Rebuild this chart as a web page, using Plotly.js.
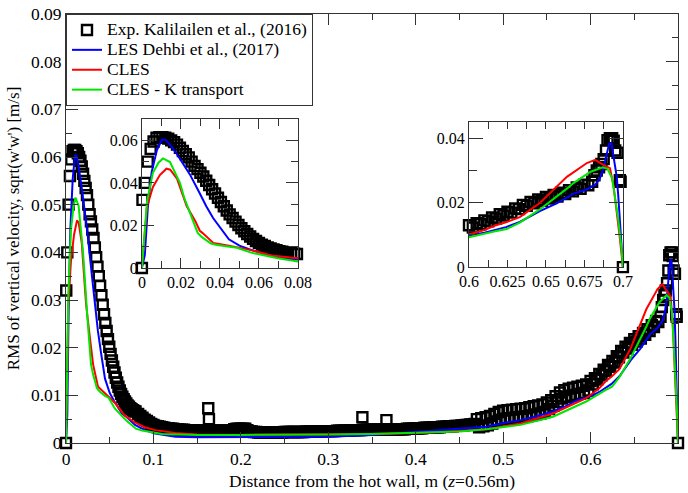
<!DOCTYPE html>
<html>
<head>
<meta charset="utf-8">
<script src="https://cdn.plot.ly/plotly-3.0.1.min.js"></script>
<style>html,body{margin:0;padding:0;background:#fff;}#chart{width:688px;height:493px;}</style>
</head>
<body>
<div id="chart"></div>
<script>
// Experimental data (Kalilailen et al., 2016)
const expX = [0,0.0003,0.0015,0.003,0.0045,0.006,0.0075,0.009,0.0105,0.012,0.0135,0.015,0.0165,0.018,0.0195,0.021,0.0225,0.024,0.0255,0.027,0.0285,0.030,0.0315,0.033,0.0345,0.036,0.0375,0.039,0.0405,0.042,0.0435,0.045,0.0465,0.048,0.0495,0.051,0.0525,0.054,0.0555,0.057,0.0585,0.060,0.0615,0.063,0.0645,0.066,0.0675,0.069,0.0705,0.072,0.0735,0.075,0.0765,0.078,0.0795,
0.0825,0.085,0.0875,0.09,0.0925,0.095,0.0975,0.1,
0.1025,0.105,0.1075,0.11,0.1125,0.115,0.1175,0.12,0.1225,0.125,0.1275,0.13,0.1325,0.135,0.1375,0.14,0.1425,0.145,0.1475,0.15,
0.1525,0.155,0.1575,0.16,0.1625,0.165,0.1675,0.17,0.1725,0.175,0.1775,0.18,0.1825,0.185,0.1875,0.19,0.1925,0.195,0.1975,0.2,
0.2025,0.205,0.2075,0.21,0.2125,0.215,0.2175,0.22,0.2225,0.225,0.2275,0.23,0.2325,0.235,0.2375,0.24,0.2425,0.245,0.2475,0.25,
0.2525,0.255,0.2575,0.26,0.2625,0.265,0.2675,0.27,0.2725,0.275,0.2775,0.28,0.2825,0.285,0.2875,0.29,0.2925,0.295,0.2975,0.3,
0.3025,0.305,0.3075,0.31,0.3125,0.315,0.3175,0.32,0.3225,0.325,0.3275,0.33,0.3325,0.335,0.3375,0.34,0.3425,0.345,0.3475,0.35,
0.3525,0.355,0.3575,0.36,0.3625,0.365,0.3675,0.37,0.3725,0.375,0.3775,0.38,0.3825,0.385,0.3875,0.39,0.3925,0.395,0.3975,0.4,
0.4025,0.405,0.4075,0.41,0.4125,0.415,0.4175,0.42,0.4225,0.425,0.4275,0.43,0.4325,0.435,0.4375,0.44,0.4425,0.445,0.4475,0.45,
0.4525,0.455,0.4575,0.46,0.4625,0.465,0.4675,0.47,0.4725,0.475,0.4775,0.48,0.4825,0.485,0.4875,0.49,0.4925,0.495,0.4975,0.5,
0.5025,0.505,0.5075,0.51,0.5125,0.515,0.5175,0.52,0.5225,0.525,0.5275,0.53,0.5325,0.535,0.5375,0.54,0.5425,0.545,0.5475,0.55,
0.5525,0.555,0.5575,0.56,0.5625,0.565,0.5675,0.57,0.5725,0.575,0.5775,0.58,0.5825,0.585,0.5875,0.59,0.5925,0.595,0.5975,0.6,
0.6025,0.605,0.6075,0.61,0.6125,0.615,0.6175,0.62,0.6225,0.625,0.6275,0.63,0.6325,0.635,0.6375,0.64,0.6425,0.645,0.6475,0.65,0.6525,0.655,0.6575,0.66,0.6625,0.665,0.6675,0.67,0.6725,0.675,0.6775,0.68,
0.6815,0.683,0.6845,0.686,0.6875,0.689,0.690,0.6915,0.693,0.694,0.695,0.6965,0.698,0.6985,0.700,
0.1627,0.1635,0.339,0.3665];
const expY = [0,0.032,0.040,0.050,0.056,0.0595,0.0612,0.0615,0.0615,0.0612,0.0608,0.060,0.0592,0.058,0.0565,0.055,0.0535,0.052,0.050,0.048,0.0465,0.0448,0.043,0.041,0.039,0.037,0.035,0.033,0.031,0.029,0.027,0.0252,0.0235,0.0218,0.0202,0.0187,0.0173,0.016,0.0148,0.0137,0.0127,0.0118,0.011,0.0103,0.0097,0.0092,0.0087,0.0083,0.0079,0.0076,0.0073,0.0071,0.0069,0.0067,0.0066,
0.0061,0.0057,0.0053,0.0049,0.0046,0.0043,0.0040,0.0038,
0.0036,0.0035,0.0034,0.0033,0.0032,0.0031,0.0031,0.0030,0.0030,0.0029,0.0029,0.0028,0.0028,0.0028,0.0027,0.0027,0.0027,0.0027,0.0026,0.0026,
0.0026,0.0026,0.0026,0.0026,0.0026,0.0026,0.0026,0.0026,0.0026,0.0026,0.0026,0.0026,0.0026,0.0026,0.0026,0.0026,0.0029,0.0030,0.0030,0.0030,
0.0030,0.0030,0.0027,0.0025,0.0024,0.0023,0.0023,0.0022,0.0022,0.0022,0.0022,0.0022,0.0022,0.0022,0.0022,0.0022,0.0022,0.0022,0.0022,0.0023,
0.0023,0.0023,0.0023,0.0023,0.0023,0.0023,0.0023,0.0023,0.0023,0.0024,0.0024,0.0024,0.0024,0.0024,0.0024,0.0024,0.0025,0.0025,0.0025,0.0025,
0.0025,0.0025,0.0025,0.0026,0.0026,0.0026,0.0026,0.0026,0.0026,0.0027,0.0027,0.0027,0.0027,0.0027,0.0027,0.0028,0.0028,0.0028,0.0028,0.0028,
0.0028,0.0028,0.0028,0.0028,0.0028,0.0028,0.0029,0.0029,0.0029,0.0029,0.0029,0.0029,0.0029,0.0029,0.0029,0.0030,0.0030,0.0030,0.0030,0.0030,
0.0031,0.0031,0.0031,0.0032,0.0032,0.0032,0.0032,0.0033,0.0033,0.0033,0.0033,0.0034,0.0034,0.0034,0.0035,0.0035,0.0035,0.0036,0.0036,0.0036,
0.0037,0.0037,0.0038,0.0038,0.0039,0.0039,0.0040,0.0050,0.0033,0.0052,0.0035,0.0054,0.0037,0.0057,0.0041,0.0061,0.0045,0.0065,0.0049,0.0068,
0.0051,0.0069,0.0052,0.0070,0.0053,0.0071,0.0054,0.0072,0.0055,0.0073,0.0056,0.0075,0.0058,0.0077,0.0060,0.0079,0.0062,0.0081,0.0065,0.0085,
0.0071,0.0090,0.0078,0.0098,0.0086,0.0106,0.0093,0.0111,0.0097,0.0114,0.0099,0.0116,0.0101,0.0118,0.0103,0.0120,0.0105,0.0123,0.0110,0.0130,
0.0123,0.0136,0.0133,0.0145,0.0142,0.0154,0.0151,0.0164,0.0160,0.0172,0.0169,0.0182,0.0180,0.0193,0.0190,0.0202,0.0198,0.0210,0.0206,0.0218,0.0213,0.0224,0.0219,0.0231,0.0227,0.0239,0.0235,0.0247,0.0243,0.0256,0.0254,0.0265,
0.0285,0.0300,0.0310,0.0320,0.0335,0.0362,0.0394,0.0400,0.0400,0.0392,0.0362,0.0355,0.0270,0.0265,0.0000,
0.0073,0.0050,0.0054,0.0048];

// LES Dehbi et al., (2017)
const lesX = [0,0.0015,0.003,0.005,0.0077,0.0103,0.012,0.014,0.018,0.0246,0.0297,0.033,0.0365,0.040,0.0446,0.050,0.055,0.064,0.069,0.079,0.090,0.102,0.125,0.150,0.200,0.250,0.300,0.350,0.400,0.450,0.481,0.500,0.520,0.540,0.557,0.570,0.585,0.600,0.610,0.624,0.633,0.646,0.657,0.668,0.676,0.682,0.685,0.687,0.689,0.691,0.6925,0.694,0.696,0.697,0.699,0.700];
const lesY = [0,0.006,0.028,0.045,0.0555,0.0603,0.0603,0.0585,0.0535,0.044,0.035,0.029,0.0235,0.019,0.0135,0.0105,0.0088,0.0062,0.0055,0.0038,0.0027,0.0020,0.0013,0.0012,0.0012,0.0012,0.0013,0.0017,0.0024,0.0030,0.0034,0.0042,0.0048,0.0057,0.0066,0.0076,0.0090,0.0098,0.0107,0.0124,0.0140,0.0174,0.0198,0.0228,0.0240,0.0255,0.0275,0.0300,0.0340,0.0382,0.0385,0.0340,0.0280,0.0220,0.0093,0];

// CLES
const clesX = [0,0.0005,0.0026,0.0056,0.0092,0.0126,0.0145,0.018,0.0206,0.023,0.0274,0.0297,0.031,0.0366,0.0446,0.050,0.056,0.0674,0.080,0.090,0.102,0.125,0.150,0.200,0.300,0.350,0.405,0.450,0.481,0.520,0.557,0.595,0.610,0.617,0.6245,0.633,0.646,0.6636,0.6766,0.682,0.687,0.6916,0.694,0.696,0.698,0.700];
const clesY = [0,0.006,0.0287,0.038,0.0437,0.0467,0.0462,0.042,0.035,0.029,0.022,0.0175,0.0165,0.0118,0.0105,0.0095,0.0084,0.0057,0.0042,0.0033,0.0027,0.0021,0.0018,0.0017,0.0018,0.0019,0.0021,0.0025,0.0029,0.0041,0.0062,0.0094,0.0115,0.0129,0.0140,0.0155,0.0199,0.0280,0.0323,0.0333,0.0318,0.0307,0.0250,0.0177,0.0090,0];

// CLES - K transport
const clesKX = [0,0.0005,0.0026,0.0056,0.0085,0.0108,0.0144,0.0195,0.0217,0.0246,0.0286,0.0308,0.0354,0.0385,0.0446,0.0487,0.056,0.069,0.080,0.087,0.110,0.150,0.200,0.250,0.300,0.350,0.405,0.450,0.481,0.520,0.557,0.595,0.617,0.6245,0.633,0.646,0.664,0.6676,0.679,0.683,0.687,0.690,0.693,0.695,0.697,0.699,0.700];
const clesKY = [0,0.006,0.031,0.0446,0.0495,0.0515,0.0498,0.040,0.033,0.026,0.0165,0.0145,0.0115,0.0108,0.0099,0.0095,0.0072,0.0047,0.0030,0.0026,0.0019,0.0017,0.0017,0.0017,0.0018,0.0019,0.0021,0.0024,0.0029,0.0038,0.0055,0.0087,0.0111,0.0118,0.0138,0.0179,0.0245,0.0260,0.0296,0.0302,0.0310,0.0305,0.0275,0.0210,0.0147,0.0060,0];

const names = ['Exp. Kalilailen et al., (2016)','LES Dehbi et al., (2017)','CLES','CLES - K transport'];

const FONT = '"Liberation Serif", "Times New Roman", Times, serif';
const BLUE = '#0000ff', RED = '#ff0000', GREEN = '#00e600';

function within(xs, ys, lo, hi) {
  const x = [], y = [];
  xs.forEach((v, i) => { if (v >= lo - 1e-9 && v <= hi + 1e-9) { x.push(v); y.push(ys[i]); } });
  return {x, y};
}

function traces(xa, ya, lo, hi, legend) {
  const e = within(expX, expY, lo, hi);
  const nm = n => '<span style="font-size:17.5px">' + n + '</span>';
  return [
    {x: e.x, y: e.y, xaxis: xa, yaxis: ya, mode: 'markers', type: 'scatter', name: nm(names[0]), showlegend: legend,
     cliponaxis: false,
     marker: {symbol: 'square-open', size: 10, color: '#000', line: {width: 2.4, color: '#000'}}},
    {x: lesX, y: lesY, xaxis: xa, yaxis: ya, mode: 'lines', type: 'scatter', name: nm(names[1]), showlegend: legend,
     line: {color: BLUE, width: 2}},
    {x: clesX, y: clesY, xaxis: xa, yaxis: ya, mode: 'lines', type: 'scatter', name: nm(names[2]), showlegend: legend,
     line: {color: RED, width: 2}},
    {x: clesKX, y: clesKY, xaxis: xa, yaxis: ya, mode: 'lines', type: 'scatter', name: nm(names[3]), showlegend: legend,
     line: {color: GREEN, width: 2}}
  ];
}

const data = [].concat(
  traces('x', 'y', 0, 0.7, true),
  traces('x2', 'y2', 0, 0.08, false),
  traces('x3', 'y3', 0.6, 0.7, false)
);

const axCommon = {
  showline: true, linecolor: '#333', linewidth: 1, mirror: 'allticks',
  ticks: 'inside', tickcolor: '#333', tickwidth: 1,
  showgrid: false, zeroline: false,
  tickfont: {family: FONT, size: 17.5, color: '#000'}
};
const insetFont = {family: FONT, size: 16, color: '#000'};

const layout = {
  width: 688, height: 493,
  margin: {l: 66, r: 10, t: 14, b: 50},
  paper_bgcolor: '#fff', plot_bgcolor: '#fff',
  font: {family: FONT, color: '#000'},
  showlegend: true,
  legend: {
    x: 0, y: 1, xanchor: 'left', yanchor: 'top',
    bgcolor: '#fff', bordercolor: '#333', borderwidth: 1,
    font: {family: FONT, size: 13, color: '#000'},
    tracegroupgap: 0
  },
  xaxis: Object.assign({}, axCommon, {
    domain: [0, 1], range: [0, 0.7], dtick: 0.1, tick0: 0, ticklen: 11,
    minor: {dtick: 0.05, ticklen: 6, ticks: 'inside', tickcolor: '#333'},
    title: {text: 'Distance from the hot wall, m (<i>z</i>=0.56m)', font: {family: FONT, size: 17.5, color: '#000'}, standoff: 6},
    anchor: 'y'
  }),
  yaxis: Object.assign({}, axCommon, {
    domain: [0, 1], range: [0, 0.09], dtick: 0.01, tick0: 0, ticklen: 12,
    minor: {dtick: 0.005, ticklen: 6, ticks: 'inside', tickcolor: '#333'},
    title: {text: "RMS of vertical velocity, sqrt(w'w') [m/s]", font: {family: FONT, size: 17, color: '#000'}, standoff: 6},
    anchor: 'x'
  }),
  xaxis2: Object.assign({}, axCommon, {
    domain: [0.124, 0.379], range: [0, 0.08], dtick: 0.02, tick0: 0, ticklen: 10,
    minor: {dtick: 0.01, ticklen: 7, ticks: 'inside', tickcolor: '#333'},
    tickfont: insetFont, anchor: 'y2'
  }),
  yaxis2: Object.assign({}, axCommon, {
    domain: [0.408, 0.755], range: [0, 0.07], dtick: 0.02, tick0: 0, ticklen: 12,
    minor: {dtick: 0.01, ticklen: 7, ticks: 'inside', tickcolor: '#333'},
    tickfont: insetFont, anchor: 'x2'
  }),
  xaxis3: Object.assign({}, axCommon, {
    domain: [0.6585, 0.910], range: [0.6, 0.7], dtick: 0.025, tick0: 0.6, ticklen: 7,
    minor: {dtick: 0.0125, ticklen: 7, ticks: 'inside', tickcolor: '#333'},
    tickfont: insetFont, anchor: 'y3'
  }),
  yaxis3: Object.assign({}, axCommon, {
    domain: [0.410, 0.748], range: [0, 0.045], dtick: 0.02, tick0: 0, ticklen: 14,
    minor: {dtick: 0.01, ticklen: 8, ticks: 'inside', tickcolor: '#333'},
    tickfont: insetFont, anchor: 'x3'
  })
};

Plotly.newPlot('chart', data, layout, {displayModeBar: false, staticPlot: true});
</script>
</body>
</html>
